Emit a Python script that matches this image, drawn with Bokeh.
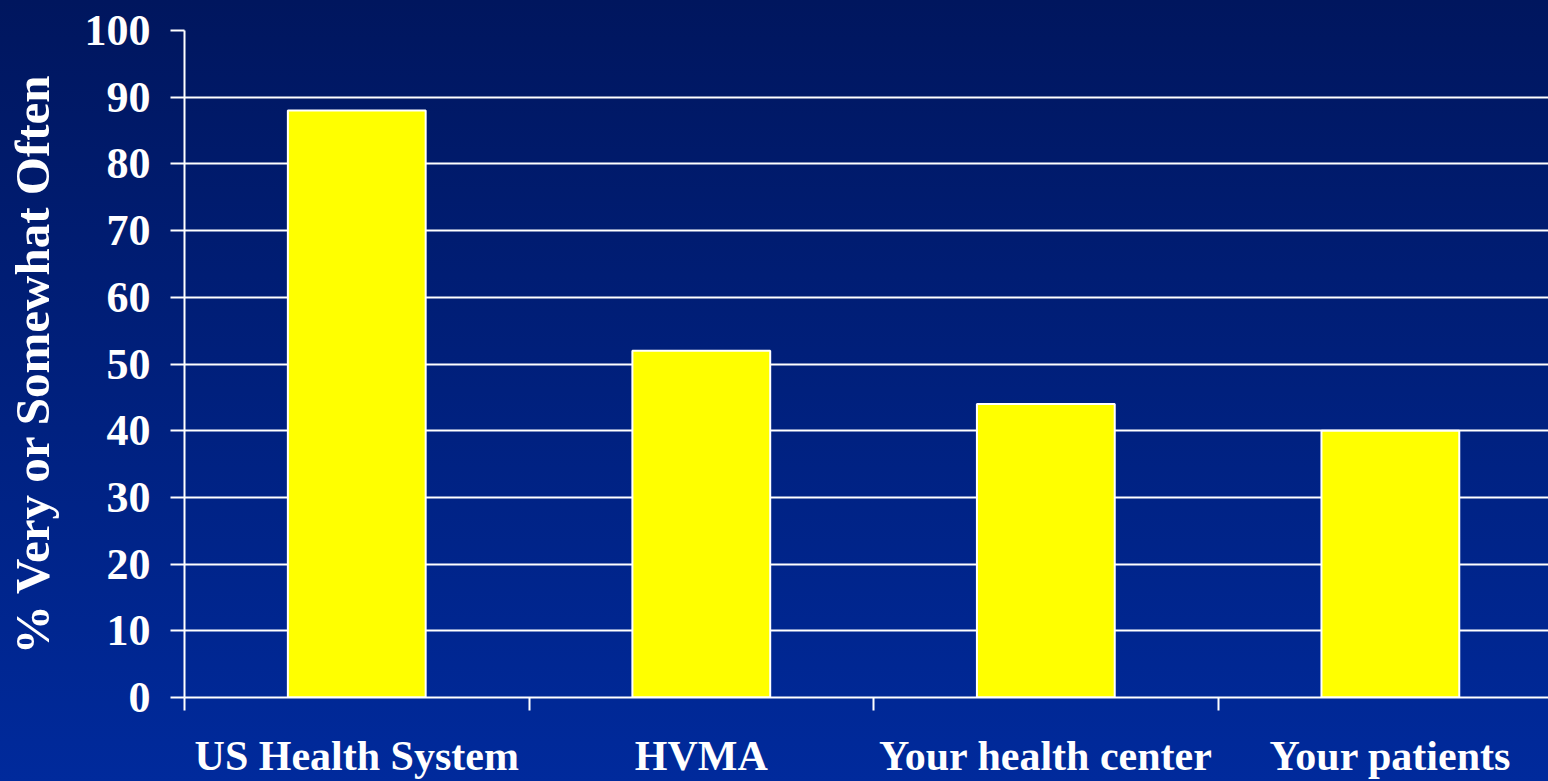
from bokeh.plotting import figure
from bokeh.models import Range1d, FixedTicker, GlobalInlineStyleSheet, ColumnDataSource
from bokeh.embed import file_html
from bokeh.resources import INLINE

# ---- data ----
categories = ["US Health System", "HVMA", "Your health center", "Your patients"]
values = [88, 52, 44, 40]
y_tick_values = [0, 10, 20, 30, 40, 50, 60, 70, 80, 90, 100]
y_title = "% Very or Somewhat Often"

centers = [i + 0.5 for i in range(len(categories))]
bounds = [float(i) for i in range(len(categories))]

FONT = "Liberation Serif"
TOP = "#00165E"
BOTTOM = "#002A9C"

src = ColumnDataSource(dict(x=centers, top=values, cat=categories))

p = figure(
    width=1548, height=781,
    x_range=Range1d(0, 3.959), y_range=Range1d(0, 100),
    output_backend="svg", toolbar_location=None,
    min_border_left=184, min_border_top=30, min_border_right=0, min_border_bottom=82,
)
p.styles = {"background-image": f"linear-gradient(to bottom, {TOP}, {BOTTOM})"}
p.stylesheets = [GlobalInlineStyleSheet(css=f"html, body {{ background: linear-gradient(to bottom, {TOP}, {BOTTOM}) !important; }}")]
p.background_fill_alpha = 0
p.border_fill_alpha = 0
p.outline_line_color = None

p.vbar(x="x", top="top", width=0.4, bottom=0, source=src,
       fill_color="#FFFF00", line_color="white", line_width=2)

# grids
p.xgrid.grid_line_color = None
p.ygrid.ticker = FixedTicker(ticks=y_tick_values)
p.ygrid.grid_line_color = "white"
p.ygrid.grid_line_width = 2

# y axis
ya = p.yaxis[0]
ya.ticker = FixedTicker(ticks=y_tick_values, minor_ticks=[])
ya.axis_line_color = "white"
ya.axis_line_width = 2
ya.major_tick_line_color = "white"
ya.major_tick_line_width = 2
ya.major_tick_out = 14
ya.major_tick_in = 0
ya.minor_tick_line_color = None
ya.major_label_text_font = FONT
ya.major_label_text_font_style = "bold"
ya.major_label_text_font_size = "44px"
ya.major_label_text_color = "white"
ya.major_label_standoff = 20
ya.axis_label = y_title
ya.axis_label_text_font = FONT
ya.axis_label_text_font_style = "bold"
ya.axis_label_text_font_size = "49px"
ya.axis_label_text_color = "white"
ya.axis_label_standoff = 22

# x axis
xa = p.xaxis[0]
xa.ticker = FixedTicker(ticks=centers, minor_ticks=bounds)
xa.major_label_overrides = {c: lab for c, lab in zip(centers, categories)}
xa.axis_line_color = "white"
xa.axis_line_width = 2
xa.major_tick_line_color = None
xa.major_tick_out = 0
xa.major_tick_in = 0
xa.minor_tick_line_color = "white"
xa.minor_tick_line_width = 2
xa.minor_tick_out = 13
xa.minor_tick_in = 0
xa.major_label_text_font = FONT
xa.major_label_text_font_style = "bold"
xa.major_label_text_font_size = "42px"
xa.major_label_text_color = "white"
xa.major_label_standoff = 22

open("out.html", "w").write(file_html(p, INLINE))
